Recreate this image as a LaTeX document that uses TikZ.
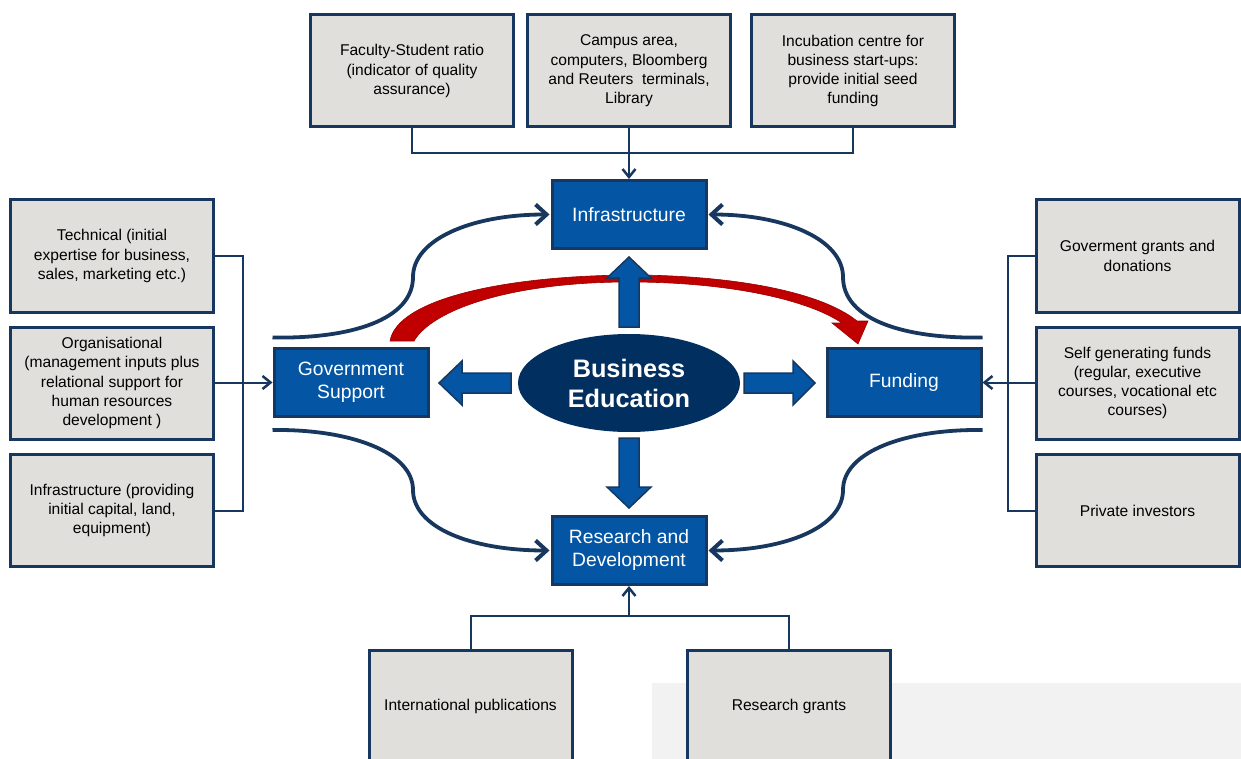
\documentclass[tikz,border=0pt]{standalone}
\usepackage{fontspec}
\setmainfont{Liberation Sans}
\usetikzlibrary{arrows.meta,shapes.geometric}
\definecolor{navy}{HTML}{17375E}
\definecolor{boxblue}{HTML}{0456A5}
\definecolor{ellblue}{HTML}{012F5F}
\definecolor{boxgray}{HTML}{E1DFDB}
\definecolor{redarr}{HTML}{C00000}
\definecolor{redd}{HTML}{990000}
\definecolor{bggray}{HTML}{F2F2F2}
\begin{document}
\begin{tikzpicture}[x=1pt,y=-1pt,
 graybox/.style={draw=navy, line width=3pt, fill=boxgray, minimum width=203pt, minimum height=112pt, align=center, font=\fontsize{15.6}{19.3}\selectfont, inner sep=1pt},
 bluebox/.style={draw=navy, line width=3pt, fill=boxblue, minimum width=154pt, minimum height=68pt, align=center, text=white, font=\fontsize{19.3}{23}\selectfont, inner sep=1pt},
 conn/.style={draw=navy, line width=2pt},
 connarr/.style={conn, -{Straight Barb[length=8pt,width=13pt,line width=2.5pt]}},
 curvearr/.style={draw=navy, line width=3.8pt, -{Straight Barb[length=11pt,width=20pt,line width=4pt]}, shorten >=1pt},
 blockarr/.style={fill=boxblue, draw=navy, line width=1.5pt, line join=miter},
 bizell/.style={ellipse, fill=ellblue, minimum width=222pt, minimum height=98pt, text=white, align=center, font=\bfseries\fontsize{25.3}{30}\selectfont, inner sep=0pt},
]
\path[use as bounding box] (0,0) rectangle (1241,759);
\clip (0,0) rectangle (1241,759);
\fill[white] (0,0) rectangle (1241,759);
\fill[bggray] (652,683) rectangle (1241,759);

% grey input boxes
\node[graybox] (fac) at (412,71) {Faculty-Student ratio\\(indicator of quality\\assurance)};
\node[graybox] (camp) at (629,71) {Campus area,\\computers, Bloomberg\\and Reuters\ \ terminals,\\Library};
\node[graybox] (inc) at (853,71) {Incubation centre for\\business start-ups:\\provide initial seed\\funding};
\node[graybox] (tech) at (112,256) {Technical (initial\\expertise for business,\\sales, marketing etc.)};
\node[graybox] (org) at (112,383) {Organisational\\(management inputs plus\\relational support for\\human resources\\development )};
\node[graybox] (infp) at (112,510.5) {Infrastructure (providing\\initial capital, land,\\equipment)};
\node[graybox] (gg) at (1137.5,256) {Goverment grants and\\donations};
\node[graybox] (self) at (1137.5,383) {Self generating funds\\(regular, executive\\courses, vocational etc\\courses)};
\node[graybox] (priv) at (1137.5,510.5) {Private investors};
\node[graybox] (intl) at (470.5,706) {International publications};
\node[graybox] (grants) at (789,706) {Research grants};

% blue boxes
\node[bluebox] (infra) at (629,214.5) {Infrastructure};
\node[bluebox] (gov) at (351,382.5) {Government\\Support};
\node[bluebox] (fund) at (904,382.5) {Funding};
\node[bluebox] (rd) at (629,550.5) {Research and\\Development};

% elbow connectors
\coordinate (tj) at (629,153);
\draw[conn] (fac.south) |- (tj) -| (inc.south);
\draw[connarr] (camp.south) -- (infra.north);
\coordinate (lj) at (243,382.5);
\draw[conn] (tech.east) -| (lj) |- (infp.east);
\draw[connarr] (org.east |- lj) -- (gov.west);
\coordinate (rj) at (1008,382.5);
\draw[conn] (gg.west) -| (rj) |- (priv.west);
\draw[connarr] (self.west |- rj) -- (fund.east);
\coordinate (bj) at (629,616);
\draw[conn] (intl.north) |- (bj) -| (grants.north);
\draw[connarr] (bj) -- (rd.south);

% curved connectors
\draw[curvearr] ([yshift=9.5pt]gov.north west) .. controls (350,339) and (413,320) .. (413,277) .. controls (413,240) and (470,214.5) .. (infra.west);
\draw[curvearr] ([yshift=9.5pt]fund.north east) .. controls (905,339) and (843,320) .. (843,277) .. controls (843,240) and (786,214.5) .. (infra.east);
\draw[curvearr] ([yshift=-12pt]gov.south west) .. controls (350,429) and (413,452) .. (413,490) .. controls (413,527) and (470,550.5) .. (rd.west);
\draw[curvearr] ([yshift=-12pt]fund.south east) .. controls (905,429) and (843,452) .. (843,490) .. controls (843,527) and (786,550.5) .. (rd.east);

% red curved arrow
\path[fill=redarr, draw=redd, line width=0.6pt, line join=miter]
 (390,341) .. controls (397,300) and (500,276) .. (629,275)
 .. controls (730,275) and (820,291) .. (857,321)
 -- (868,321) -- (858,344) -- (832,323) -- (842,323)
 .. controls (808,300) and (730,282) .. (629,282)
 .. controls (510,282) and (432,310) .. (414,341) -- cycle;

% block arrows
\draw[blockarr] (619,327) -- (619,278) -- (607,278) -- (629,257) -- (651,278) -- (639,278) -- (639,327) -- cycle;
\draw[blockarr] (619,438) -- (619,487) -- (607,487) -- (629,508) -- (651,487) -- (639,487) -- (639,438) -- cycle;
\draw[blockarr] (511,373) -- (462,373) -- (462,361) -- (439,383) -- (462,405) -- (462,393) -- (511,393) -- cycle;
\draw[blockarr] (744,373) -- (793,373) -- (793,361) -- (815,383) -- (793,405) -- (793,393) -- (744,393) -- cycle;

% centre ellipse
\node[bizell] (be) at (629,383) {Business\\Education};
\end{tikzpicture}
\end{document}
